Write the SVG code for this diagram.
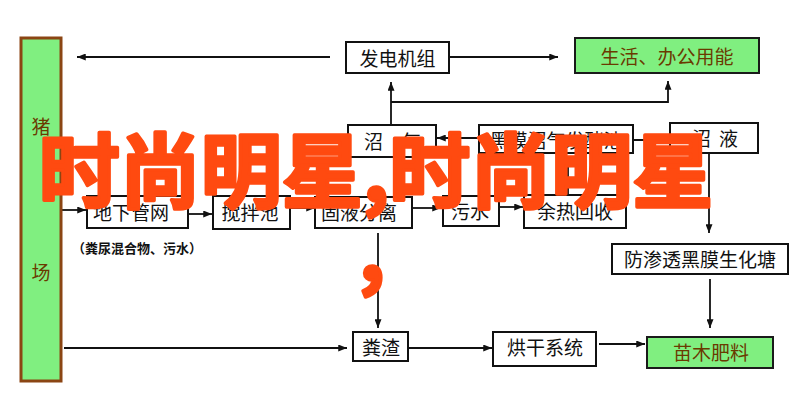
<svg xmlns="http://www.w3.org/2000/svg" width="797" height="405" viewBox="0 0 797 405">
<style>
.box{fill:#fff;stroke:#111;stroke-width:2}
.gbox{fill:#80ef80;stroke:#1a1a1a;stroke-width:2}
.lbl{font-family:"Noto Sans CJK SC","Noto Sans CJK JP",sans-serif;font-size:19px;fill:#111;text-anchor:middle;dominant-baseline:central}
.glbl{font-family:"Noto Sans CJK SC","Noto Sans CJK JP",sans-serif;font-size:19px;fill:#6a3a00;text-anchor:middle;dominant-baseline:central}
.ln{fill:none;stroke:#111;stroke-width:1.8}
.arr{marker-end:url(#ah)}
.wm{font-family:"Noto Sans CJK SC","Noto Sans CJK JP",sans-serif;font-weight:bold;font-size:81px;fill:#ff4a10;stroke:#ff4a10;stroke-width:3.5;stroke-linejoin:round;text-anchor:middle}
</style>
<defs>
<marker id="ah" viewBox="0 0 10 8" refX="10" refY="4" markerWidth="9" markerHeight="7" orient="auto" markerUnits="userSpaceOnUse"><path d="M0,0 L10,4 L0,8 z" fill="#111"/></marker>
</defs>
<rect width="797" height="405" fill="#fff"/>

<g id="connectors">
<path class="ln arr" d="M330,57 H77"/>
<path class="ln arr" d="M449,57 H558"/>
<path class="ln arr" d="M391,125 V82"/>
<path class="ln arr" d="M391,102 H668 V81"/>
<path class="ln arr" d="M479,138 H437"/>
<path class="ln" d="M633,140 H670"/>
<path class="ln arr" d="M709,154 V233"/>
<path class="ln arr" d="M710,279 V328"/>
<path class="ln arr" d="M599,344 H645"/>
<path class="ln arr" d="M408,348 H492"/>
<path class="ln arr" d="M64,348 H347"/>
<path class="ln arr" d="M378,233 V328"/>
<path class="ln arr" d="M62,210 H86"/>
<path class="ln arr" d="M188,214 H212"/>
<path class="ln arr" d="M290,208 H315"/>
<path class="ln arr" d="M412,208 H441"/>
<path class="ln arr" d="M499,207 H523"/>
<path class="ln arr" d="M568,195 V157"/>
</g>

<g id="pig-farm">
<rect x="21" y="38" width="40" height="343" fill="#80ef80" stroke="#8b4513" stroke-width="3"/>
<text class="glbl" x="41" y="125">猪</text>
<text class="glbl" x="41" y="271">场</text>
</g>

<g id="generator">
<rect class="box" x="346" y="42" width="103" height="31"/>
<text class="lbl" x="397.5" y="57">发电机组</text>
</g>

<g id="energy">
<rect class="gbox" x="575" y="38" width="184" height="35"/>
<text class="glbl" x="667" y="55">生活、办公用能</text>
</g>

<g id="biogas">
<rect class="box" x="348" y="125" width="88" height="32"/>
<text class="lbl" x="392.5" y="140">沼　气</text>
</g>

<g id="digester">
<rect class="box" x="479" y="125" width="154" height="28"/>
<text class="lbl" x="556" y="139">黑膜沼气发酵池</text>
</g>

<g id="slurry">
<rect class="box" x="670" y="123" width="88" height="30"/>
<text class="lbl" x="715" y="137" textLength="46" lengthAdjust="spacing">沼　液</text>
</g>

<g id="pipe-network">
<rect class="box" x="87" y="196" width="101" height="32"/>
<text class="lbl" x="131" y="211">地下管网</text>
</g>

<g id="mixing-tank">
<rect class="box" x="213" y="196" width="77" height="33"/>
<text class="lbl" x="250" y="211">搅拌池</text>
</g>

<g id="separator">
<rect class="box" x="315" y="197" width="97" height="31"/>
<text class="lbl" x="359" y="211">固液分离</text>
</g>

<g id="wastewater">
<rect class="box" x="443" y="196" width="56" height="30"/>
<text class="lbl" x="470" y="210">污水</text>
</g>

<g id="heat-recovery">
<rect class="box" x="524" y="195" width="102" height="33"/>
<text class="lbl" x="575" y="210">余热回收</text>
</g>

<g id="pond">
<rect class="box" x="612" y="244" width="176" height="30"/>
<text class="lbl" x="700" y="258">防渗透黑膜生化塘</text>
</g>

<g id="manure">
<rect class="box" x="353" y="332" width="55" height="29"/>
<text class="lbl" x="381" y="346">粪渣</text>
</g>

<g id="dryer">
<rect class="box" x="493" y="332" width="103" height="34"/>
<text class="lbl" x="545" y="346">烘干系统</text>
</g>

<g id="fertilizer">
<rect class="gbox" x="647" y="337" width="126" height="31"/>
<text class="glbl" x="711" y="351">苗木肥料</text>
</g>

<g id="note">
<text x="137" y="253" font-family="'Noto Sans CJK SC','Noto Sans CJK JP',sans-serif" font-size="13" font-weight="bold" fill="#111" text-anchor="middle">（粪尿混合物、污水）</text>
</g>

<g id="watermark">
<text class="wm" x="376" y="201">时尚明星,时尚明星</text>
<text class="wm" x="372" y="280">,</text>
</g>
</svg>
